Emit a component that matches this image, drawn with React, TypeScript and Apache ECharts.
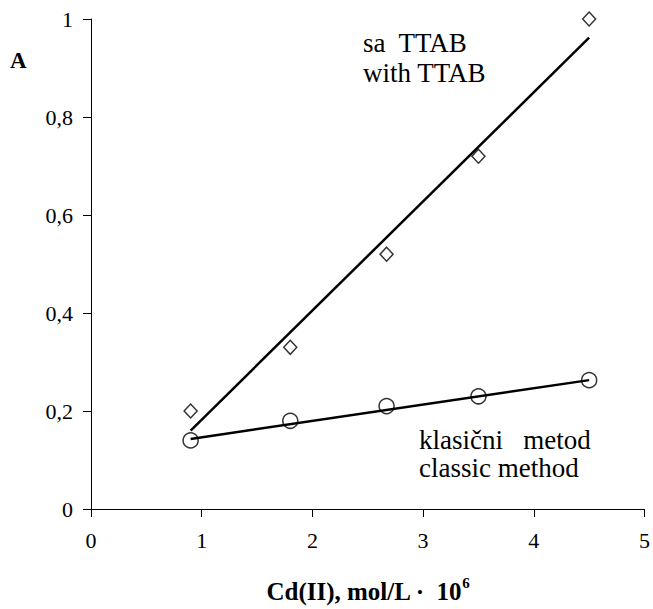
import React, { useEffect, useRef } from "react";
import * as echarts from "echarts";

const xTicks = [0, 1, 2, 3, 4, 5];
const ttabPoints: [number, number][] = [
  [0.9, 0.2],
  [1.8, 0.33],
  [2.67, 0.52],
  [3.5, 0.72],
  [4.5, 1.0],
];
const classicPoints: [number, number][] = [
  [0.9, 0.14],
  [1.8, 0.18],
  [2.67, 0.21],
  [3.5, 0.23],
  [4.5, 0.263],
];
const ttabFit: [number, number][] = [
  [0.9, 0.16],
  [4.5, 0.962],
];
const classicFit: [number, number][] = [
  [0.9, 0.143],
  [4.5, 0.263],
];

const FONT = "Liberation Serif";

function txt(text: string, x: number, y: number, size: number, bold = false) {
  return {
    type: "text",
    x,
    y,
    style: {
      text,
      fontFamily: FONT,
      fontSize: size,
      fontWeight: bold ? "bold" : "normal",
      fill: "#000",
      align: "left",
      verticalAlign: "middle",
    },
  };
}

export default function App() {
  const ref = useRef<HTMLDivElement>(null);
  useEffect(() => {
    const chart = echarts.init(ref.current!, null, { renderer: "svg" });
    chart.setOption({
      animation: false,
      backgroundColor: "#fff",
      grid: { left: 91, right: 5, top: 19, bottom: 95, containLabel: false },
      xAxis: {
        type: "value",
        min: 0,
        max: 5,
        interval: 1,
        axisLine: { show: true, lineStyle: { color: "#000", width: 1 } },
        axisTick: { show: true, length: 8, inside: false, lineStyle: { color: "#000" } },
        splitLine: { show: false },
        axisLabel: {
          color: "#000",
          fontFamily: FONT,
          fontSize: 22,
          margin: 20,
          formatter: (v: number) => (xTicks.includes(v) ? String(v) : ""),
        },
        name: "{b|Cd(II), mol/L ·  10}{s|6}",
        nameLocation: "middle",
        nameGap: 66,
        nameTextStyle: {
          rich: {
            b: { fontFamily: FONT, fontSize: 25, fontWeight: "bold", color: "#000" },
            s: { fontFamily: FONT, fontSize: 15, fontWeight: "bold", color: "#000", verticalAlign: "top", padding: [0, 0, 18, 0] },
          },
        },
      },
      yAxis: {
        type: "value",
        min: 0,
        max: 1,
        interval: 0.2,
        axisLine: { show: true, lineStyle: { color: "#000", width: 1 } },
        axisTick: { show: true, length: 8, inside: false, lineStyle: { color: "#000" } },
        splitLine: { show: false },
        axisLabel: {
          color: "#000",
          fontFamily: FONT,
          fontSize: 22,
          margin: 18,
          formatter: (v: number) => String(Math.round(v * 10) / 10).replace(".", ","),
        },
      },
      series: [
        {
          type: "line",
          data: ttabFit,
          showSymbol: false,
          symbol: "none",
          lineStyle: { color: "#000", width: 2.5 },
          z: 2,
        },
        {
          type: "line",
          data: classicFit,
          showSymbol: false,
          symbol: "none",
          lineStyle: { color: "#000", width: 2.5 },
          z: 2,
        },
        {
          type: "scatter",
          data: ttabPoints,
          symbol: "diamond",
          symbolSize: [13, 14],
          itemStyle: { color: "#fff", borderColor: "#000", borderWidth: 1.5 },
          z: 3,
        },
        {
          type: "scatter",
          data: classicPoints,
          symbol: "circle",
          symbolSize: 15,
          itemStyle: { color: "rgba(255,255,255,0)", borderColor: "#000", borderWidth: 1.5 },
          z: 3,
        },
      ],
      graphic: [
        txt("A", 10, 60, 23, true),
        txt("sa  TTAB", 363, 43, 27),
        txt("with TTAB", 363, 73, 27),
        txt("klasični   metod", 419, 440, 27),
        txt("classic method", 419, 468, 27),
      ],
    });
    return () => chart.dispose();
  }, []);
  return (
    <div
      ref={ref}
      style={{ position: "fixed", left: 0, top: 0, width: 653, height: 609, background: "#fff" }}
    />
  );
}
